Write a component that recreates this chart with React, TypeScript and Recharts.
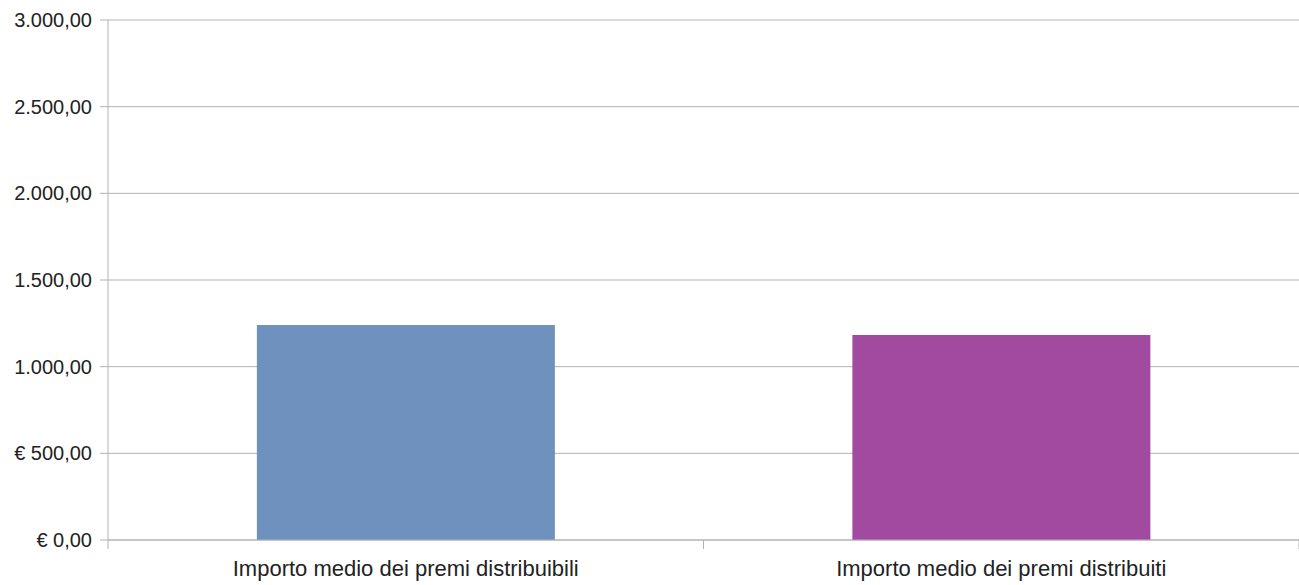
import { BarChart, Bar, XAxis, YAxis, CartesianGrid, Cell } from 'recharts'

const categories = [
  'Importo medio dei premi distribuibili',
  'Importo medio dei premi distribuiti',
]
const values = [1240, 1183]
const barColors = ['#6f91bd', '#a249a0']
const yTicks = [0, 500, 1000, 1500, 2000, 2500, 3000]

const data = categories.map((name, i) => ({ name, value: values[i] }))

const fmt = (v: number) => {
  const [int, dec] = v.toFixed(2).split('.')
  const grouped = int.replace(/\B(?=(\d{3})+(?!\d))/g, '.')
  const s = `${grouped},${dec}`
  return v < 1000 ? `€ ${s}` : s
}

const font = '"Liberation Sans", Arial, sans-serif'

function CategoryTick(props: any) {
  const { x, y, payload, index, visibleTicksCount } = props
  const half = payload.offset ?? 0
  const isLast = index === visibleTicksCount - 1
  return (
    <g>
      <line x1={x - half} x2={x - half} y1={y - 9} y2={y} stroke="#b3b3b3" />
      {isLast && (
        <line x1={x + half} x2={x + half} y1={y - 9} y2={y} stroke="#b3b3b3" />
      )}
      <text
        x={x}
        y={y + 27}
        textAnchor="middle"
        fontSize={22}
        fontFamily={font}
        fill="#222"
      >
        {payload.value}
      </text>
    </g>
  )
}

export default function App() {
  return (
    <div style={{ position: 'absolute', left: 0, top: 0, background: '#fff' }}>
      <BarChart
        width={1299}
        height={585}
        data={data}
        margin={{ top: 20, right: 0, bottom: 0, left: 0 }}
        barCategoryGap="25%"
      >
        <CartesianGrid vertical={false} stroke="#b3b3b3" />
        <XAxis
          dataKey="name"
          height={45}
          stroke="#b3b3b3"
          tickLine={false}
          tickSize={9}
          tickMargin={0}
          interval={0}
          tick={<CategoryTick />}
        />
        <YAxis
          width={108}
          domain={[0, 3000]}
          ticks={yTicks}
          tickFormatter={fmt}
          stroke="#b3b3b3"
          tickSize={8}
          tickMargin={8}
          tick={{ fontSize: 20, fontFamily: font, fill: '#222' }}
        />
        <Bar dataKey="value" isAnimationActive={false}>
          {data.map((d, i) => (
            <Cell key={d.name} fill={barColors[i]} />
          ))}
        </Bar>
      </BarChart>
    </div>
  )
}
